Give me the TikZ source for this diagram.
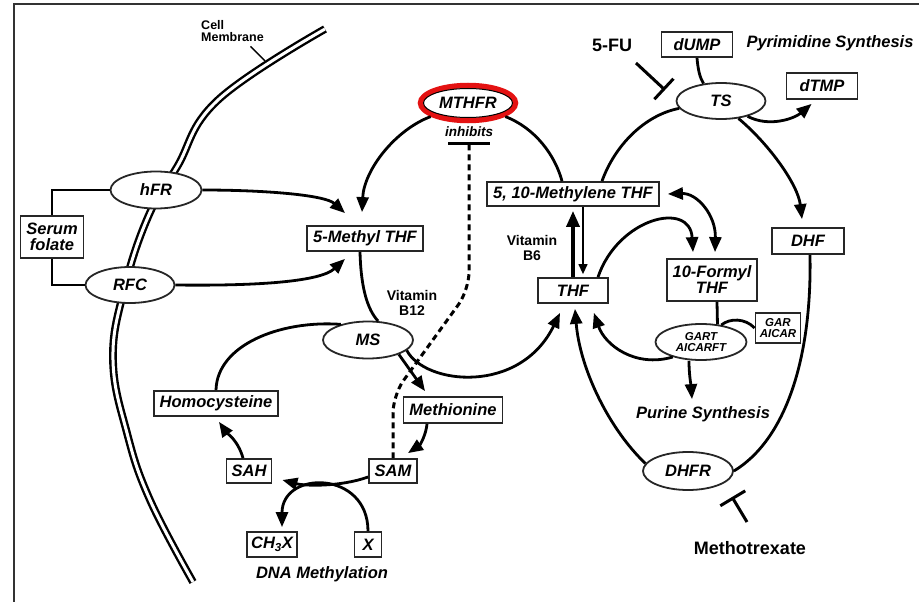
\documentclass[tikz,border=0pt]{standalone}
\usepackage{fontspec}
\setmainfont{Liberation Sans}
\usetikzlibrary{arrows.meta,shapes.geometric}
\definecolor{ringred}{RGB}{228,18,18}
\newcommand\boxfont{\fontsize{16.5}{16}\selectfont\bfseries\itshape}
\newcommand\smallfont{\fontsize{11.5}{11}\selectfont\bfseries\itshape}
\newcommand\vitfont{\fontsize{14}{15}\selectfont\bfseries}
\newcommand\drugfont{\fontsize{18}{20}\selectfont\bfseries}
\newcommand\memfont{\fontsize{12.5}{12}\selectfont\bfseries}
\newcommand\inhfont{\fontsize{13.5}{14}\selectfont\bfseries\itshape}
\def\hd{Triangle[length=15pt,width=12pt]}
\begin{document}
\begin{tikzpicture}[x=1pt,y=-1pt,
  boxnode/.style={draw=black!85,line width=1.8pt,fill=white,inner sep=0pt,font=\boxfont},
  enzyme/.style={ellipse,draw=black!85,line width=1.8pt,fill=white,inner sep=0pt,font=\boxfont},
  txtnode/.style={inner sep=0pt,font=\boxfont},
  flowarr/.style={line width=2.8pt,-{\hd}},
  bothflow/.style={line width=2.8pt,{\hd}-{\hd}},
  linkline/.style={line width=2.8pt},
  inhib/.style={line width=3pt,-{Bar[width=28pt]}}]
\useasboundingbox (0,0) rectangle (919,602);
\draw[line width=1.6pt,black!80] (14,602) -- (14,4) -- (919,4);
\draw[line width=2.4pt,double=white,double distance=3pt] plot[smooth,tension=0.7] coordinates {(325,29) (218,100) (177,167) (148,217) (124,290) (113,360) (127,433) (150,500) (193,582)};

\node[txtnode,font=\memfont,align=left] (cellmem) at (232.5,31.5) {Cell\\Membrane};
\coordinate (memtick) at (265,61);
\draw[line width=1.4pt] ([xshift=18pt,yshift=-4pt]cellmem.south) -- (memtick);

\node[boxnode,minimum width=63pt,minimum height=42pt,align=center] (serum) at (52,237) {Serum\\folate};
\node[enzyme,minimum width=91pt,minimum height=37pt] (hfr) at (156,190) {hFR};
\node[enzyme,minimum width=89pt,minimum height=36pt] (rfc) at (130,285) {RFC};
\node[boxnode,minimum width=116pt,minimum height=25pt] (mthf) at (365,238.5) {5-Methyl THF};
\node[enzyme,draw=ringred,line width=5.5pt,minimum width=95pt,minimum height=35pt] (mthfr) at (468,103) {MTHFR};
\draw[line width=1pt] (mthfr.center) ellipse [x radius=44.5pt,y radius=14.5pt];
\node[txtnode,font=\inhfont] (inh) at (469,132) {inhibits};
\node[boxnode,minimum width=172pt,minimum height=24pt] (mthy) at (573,194) {5, 10-Methylene THF};
\node[boxnode,minimum width=70pt,minimum height=25pt] (thf) at (573,290.5) {THF};
\node[txtnode,font=\vitfont,align=center] (vb6) at (532,247.5) {Vitamin\\B6};
\node[txtnode,font=\vitfont,align=center] (vb12) at (412,302.5) {Vitamin\\B12};
\node[enzyme,minimum width=90pt,minimum height=37pt] (ms) at (368,340) {MS};
\node[boxnode,minimum width=124pt,minimum height=25pt] (homocys) at (216,403.5) {Homocysteine};
\node[boxnode,minimum width=99pt,minimum height=26pt] (methionine) at (453,410) {Methionine};
\node[boxnode,minimum width=48pt,minimum height=24pt] (sam) at (393,471) {SAM};
\node[boxnode,minimum width=45pt,minimum height=24pt] (sah) at (249,471) {SAH};
\node[boxnode,minimum width=50pt,minimum height=25pt] (chx) at (272,544.5) {CH\textsubscript{3}X};
\node[boxnode,minimum width=27pt,minimum height=25pt] (xbox) at (368,544.5) {X};
\node[txtnode] (dnam) at (322,574) {DNA Methylation};
\node[txtnode,font=\drugfont] (fu) at (612,45) {5-FU};
\node[boxnode,minimum width=71pt,minimum height=25pt] (dump) at (697,44.5) {dUMP};
\node[txtnode] (pyr) at (830,43.5) {Pyrimidine Synthesis};
\node[enzyme,minimum width=89pt,minimum height=36pt] (ts) at (721,101) {TS};
\node[boxnode,minimum width=71pt,minimum height=26pt] (dtmp) at (822,86) {dTMP};
\node[boxnode,minimum width=72pt,minimum height=26pt] (dhf) at (808,241) {DHF};
\node[boxnode,minimum width=90pt,minimum height=42pt,align=center] (formyl) at (712,280) {10-Formyl\\THF};
\node[enzyme,minimum width=91pt,minimum height=36pt,font=\smallfont,align=center] (gart) at (701,342) {GART\\AICARFT};
\node[boxnode,minimum width=45pt,minimum height=30pt,font=\smallfont,align=center] (garaicar) at (778,328) {GAR\\AICAR};
\node[txtnode] (purine) at (703,414) {Purine Synthesis};
\node[enzyme,minimum width=90pt,minimum height=38pt] (dhfr) at (688,471) {DHFR};
\node[txtnode,font=\drugfont] (mtx) at (750,548) {Methotrexate};
\coordinate (fustart) at (636,63);
\coordinate (fuend) at (665,90);
\coordinate (mtxstart) at (747,522);
\coordinate (mtxend) at (732,497);
\coordinate (inhbar) at (469,142);

\draw[linkline] (hfr.west) -| (serum.north);
\draw[linkline] (rfc.west) -| (serum.south);
\draw[flowarr] (hfr.east) .. controls (265,190) and (325,195) .. ([xshift=-20pt,yshift=12pt]mthf.north);
\draw[flowarr] (rfc.east) .. controls (255,286) and (320,282) .. ([xshift=-20pt,yshift=-7pt]mthf.south);
\draw[flowarr] (mthfr.200) .. controls (395,130) and (364,170) .. ([xshift=-3pt,yshift=13pt]mthf.north);
\draw[linkline] (mthfr.340) .. controls (535,128) and (555,155) .. ([xshift=-11pt]mthy.north);
\draw[linkline] ([xshift=-5pt]mthf.south) .. controls (361,290) and (368,310) .. (ms.62);
\draw[linkline] (homocys.north) .. controls (217,345) and (280,320) .. (ms.150);
\draw[flowarr] (ms.345) .. controls (425,385) and (520,395) .. ([xshift=-13pt,yshift=-9pt]thf.south);
\draw[flowarr] (ms.335) -- ([xshift=-28pt,yshift=5pt]methionine.north);
\draw[flowarr] ([xshift=-26pt]methionine.south) .. controls (426,435) and (420,445) .. ([xshift=15pt,yshift=5pt]sam.north);
\draw[flowarr] ([yshift=-6pt]sam.west) .. controls (340,487) and (305,486) .. ([xshift=10pt,yshift=-9pt]sah.east);
\draw[flowarr] (xbox.north) .. controls (368,470) and (282,470) .. ([xshift=10pt,yshift=4pt]chx.north);
\draw[flowarr] ([xshift=-6pt]sah.north) .. controls (238,440) and (226,432) .. ([xshift=3pt,yshift=-5pt]homocys.south);
\draw[line width=3pt,dash pattern=on 6pt off 4pt,rounded corners=18pt,{Bar[width=42pt]}-] (inhbar) -- (469,290) -- (393,395) -- (sam.north);
\draw[line width=3.5pt,-{Triangle[length=16pt,width=13pt]}] (thf.north) -- ([yshift=-4pt]mthy.south);
\draw[line width=1.3pt,-{Triangle[length=10pt,width=9pt]}] ([xshift=10pt]mthy.south) -- ([xshift=10pt,yshift=3pt]thf.north);
\draw[linkline] ([xshift=29pt]mthy.north) .. controls (615,145) and (645,115) .. (ts.190);
\draw[linkline] (dump.south) .. controls (698,70) and (700,78) .. (ts.135);
\draw[inhib] (fustart) -- (fuend);
\draw[flowarr] (ts.330) .. controls (770,128) and (795,118) .. ([xshift=26pt,yshift=-4pt]dtmp.south west);
\draw[flowarr] (ts.315) .. controls (770,145) and (798,185) .. ([xshift=-6pt,yshift=8pt]dhf.north);
\draw[linkline] ([xshift=2pt]dhf.south) .. controls (812,360) and (785,440) .. (dhfr.east);
\draw[flowarr] (dhfr.170) .. controls (610,430) and (580,370) .. ([xshift=2pt,yshift=-5pt]thf.south);
\draw[inhib,-{Bar[width=29pt]}] (mtxstart) -- (mtxend);
\draw[flowarr] ([xshift=25pt]thf.north) .. controls (618,218) and (690,200) .. ([xshift=-19pt,yshift=6pt]formyl.north);
\draw[bothflow] ([xshift=8pt]mthy.east) .. controls (697,193) and (716,215) .. ([xshift=3pt,yshift=6pt]formyl.north);
\draw[linkline] ([xshift=5pt]formyl.south) -- (gart.47);
\draw[linkline] (garaicar.west) .. controls (745,318) and (730,318) .. (gart.40);
\draw[flowarr] (gart.208) .. controls (635,368) and (605,345) .. ([xshift=-15pt,yshift=-9pt]thf.south east);
\draw[flowarr] ([xshift=-12pt]gart.south) .. controls (689,375) and (691,385) .. ([xshift=-11pt,yshift=7pt]purine.north);
\end{tikzpicture}
\end{document}
